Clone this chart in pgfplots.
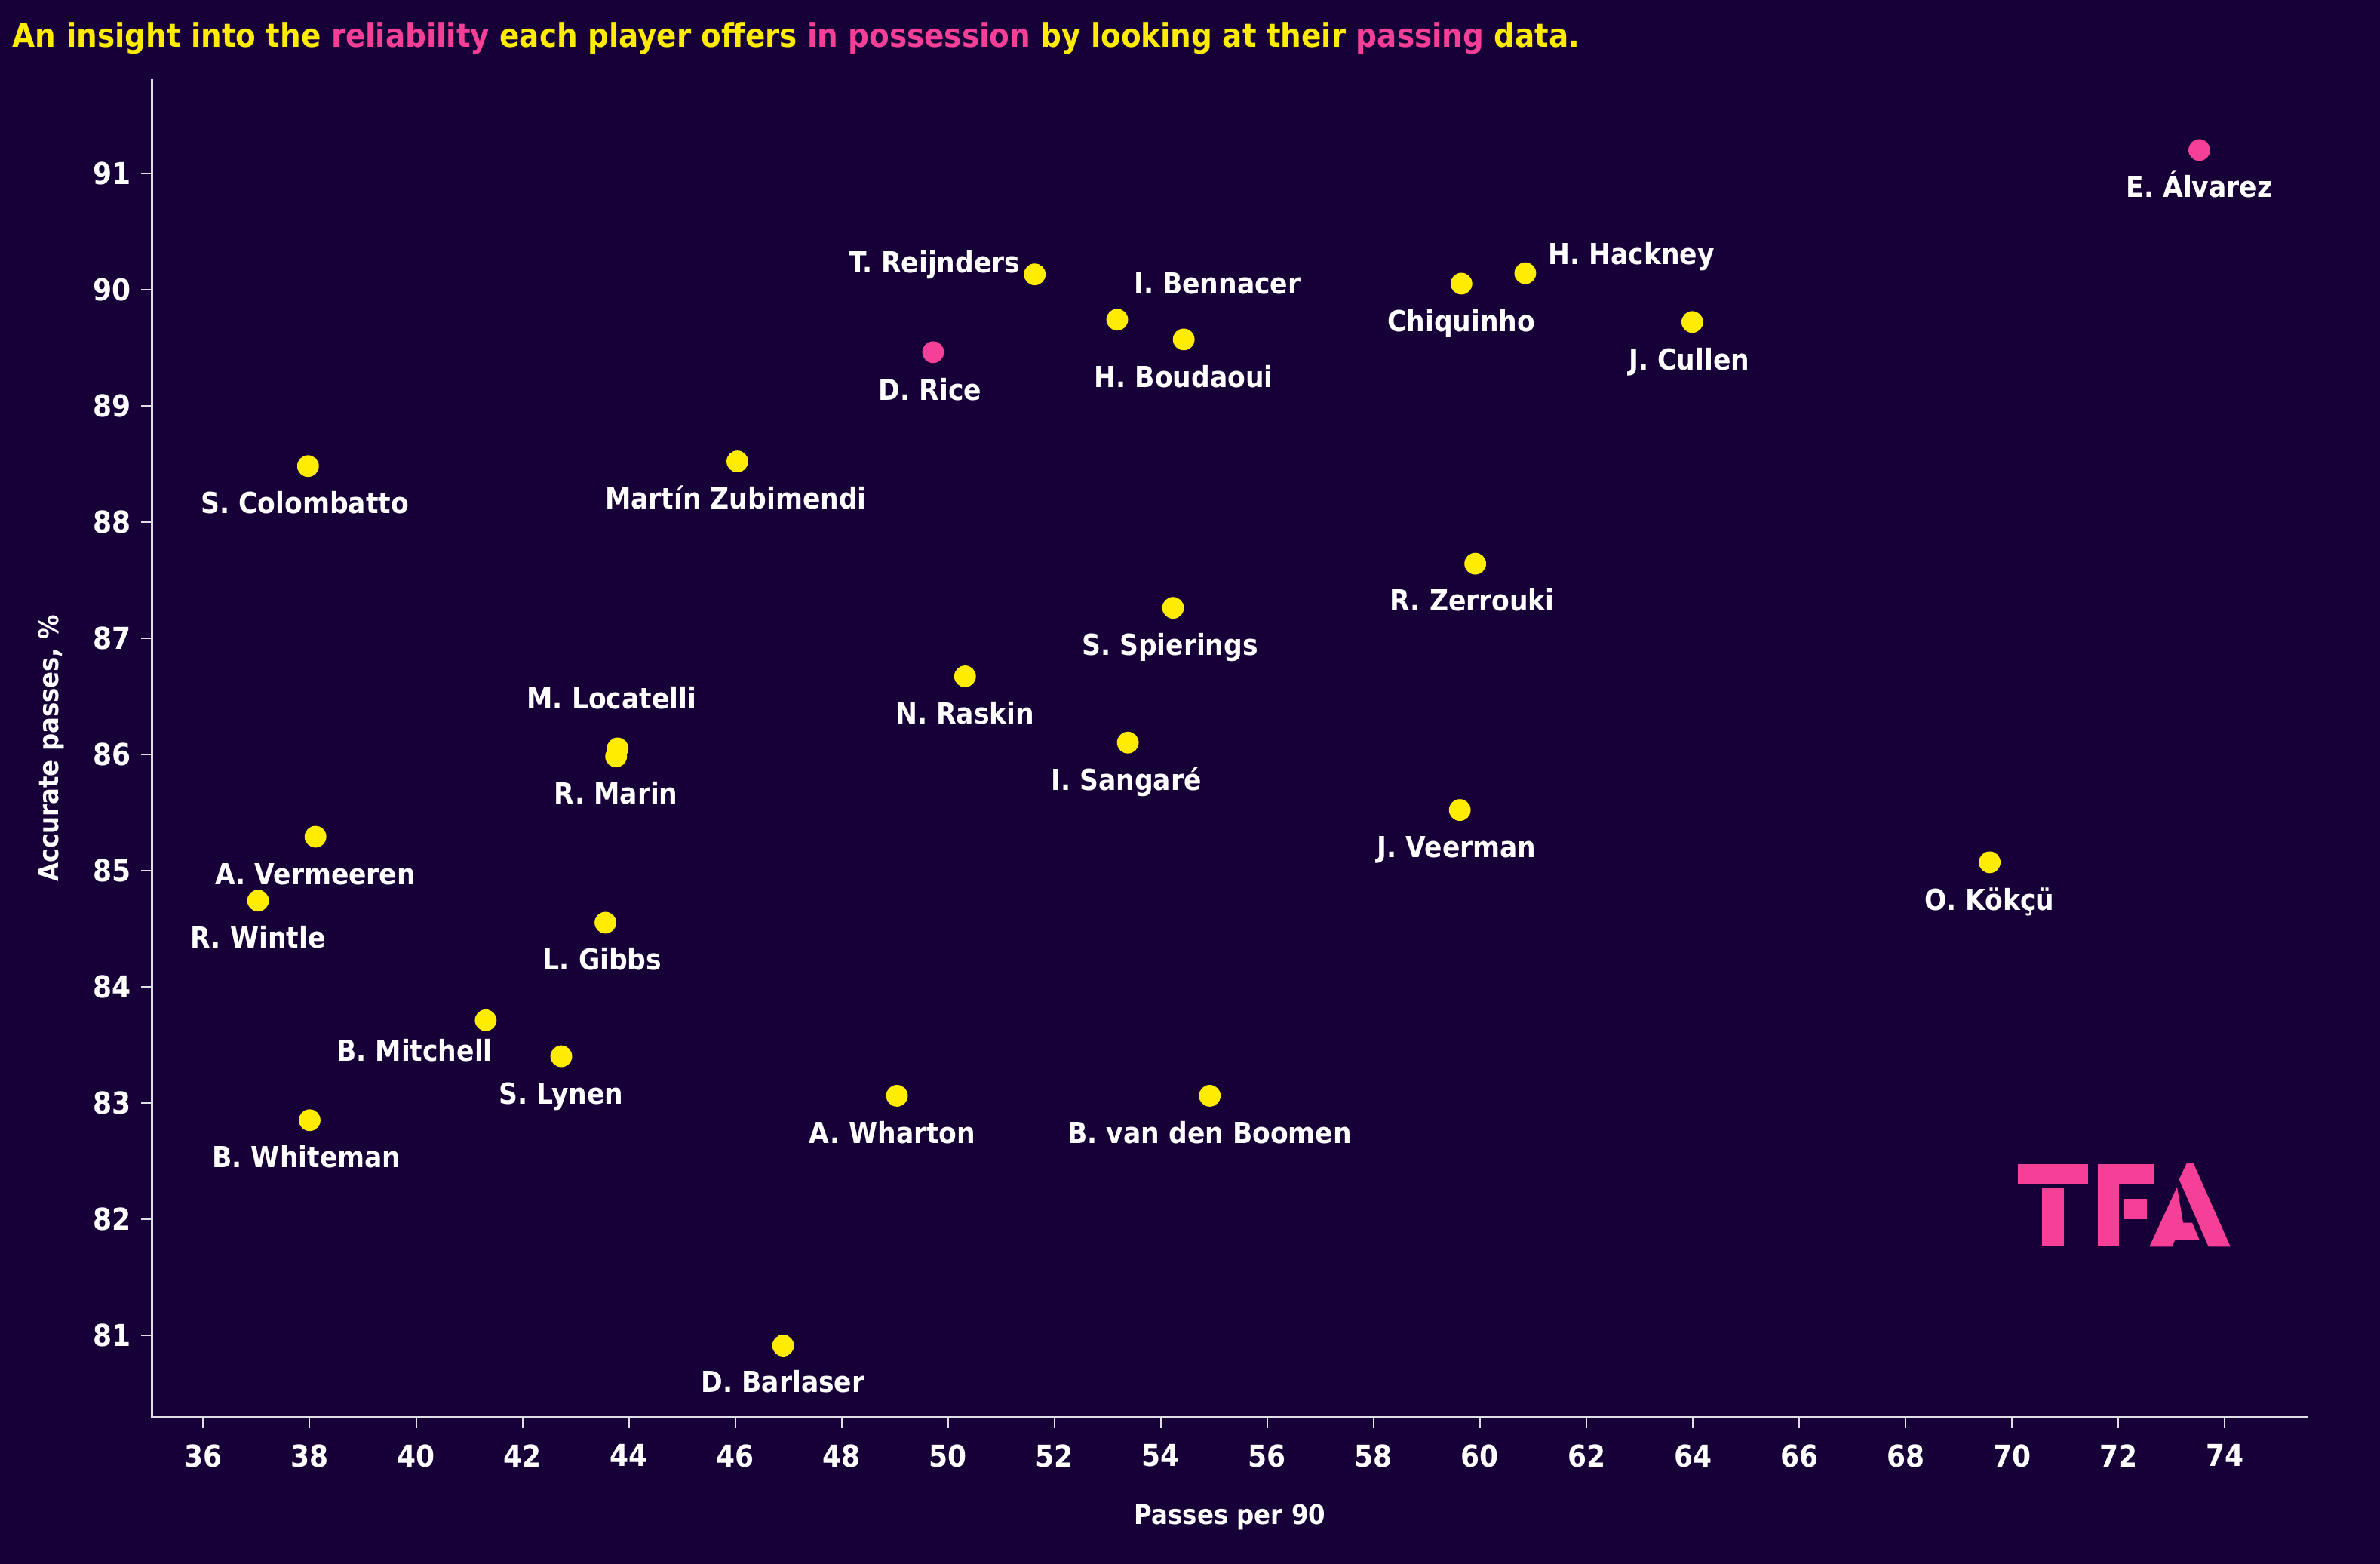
\documentclass[border=0pt]{standalone}
\usepackage{pgfplots}
\pgfplotsset{compat=1.18}
\usepackage{pgfplotstable}
\usepackage{fontspec}
\setmainfont{DejaVu Sans Condensed}

\definecolor{bg}{RGB}{23,0,56}
\definecolor{yel}{RGB}{255,236,0}
\definecolor{pnk}{RGB}{246,63,151}
\definecolor{axgray}{RGB}{222,222,228}

\begin{document}

\pgfplotstableread[col sep=comma]{
x,y,label,dx,dy
60.85,90.14,H. Hackney,35.2,3.0
59.65,90.05,Chiquinho,0,-15.8
63.99,89.72,J. Cullen,-1,-15.8
51.63,90.13,T. Reijnders,-33.2,0.5
53.18,89.74,I. Bennacer,33.2,8.6
54.43,89.57,H. Boudaoui,0,-15.8
37.97,88.48,S. Colombatto,-1,-15.8
46.04,88.52,Martín Zubimendi,-0.5,-15.8
59.91,87.64,R. Zerrouki,-1,-15.6
54.23,87.26,S. Spierings,-1,-15.8
50.32,86.67,N. Raskin,0,-15.8
43.79,86.05,M. Locatelli,-2,13.1
43.76,85.98,R. Marin,0,-15.6
53.38,86.10,I. Sangaré,-0.5,-15.8
59.62,85.52,J. Veerman,-1,-15.8
69.58,85.07,O. Kökçü,0,-15.8
38.11,85.29,A. Vermeeren,0,-15.8
37.03,84.74,R. Wintle,0,-15.6
43.56,84.55,L. Gibbs,-1,-15.6
41.31,83.71,B. Mitchell,-23.6,-13.6
42.73,83.40,S. Lynen,0,-15.8
38.00,82.85,B. Whiteman,-1,-15.6
49.04,83.06,A. Wharton,-1.5,-15.8
54.92,83.06,B. van den Boomen,0,-15.8
46.90,80.91,D. Barlaser,0,-15.6
}\yellowdata

\pgfplotstableread[col sep=comma]{
x,y,label,dx,dy
73.52,91.20,E. Álvarez,0,-15.6
49.72,89.46,D. Rice,-1,-15.8
}\pinkdata

\begin{tikzpicture}
\fill[bg] (0,0) rectangle (788.75pt,518.25pt);

% title
\node[anchor=base west, inner sep=0pt, text=yel, font=\bfseries\fontsize{10.8}{13}\selectfont]
  at (4pt,502.5pt) {An insight into the {\color{pnk}reliability} each player offers {\color{pnk}in possession} by looking at their {\color{pnk}passing} data.};

\begin{axis}[
  at={(50.25pt,48.5pt)}, anchor=south west,
  scale only axis, width=714.75pt, height=443.5pt,
  xmin=35.03, xmax=75.57, ymin=80.29, ymax=91.81,
  axis lines*=left,
  axis line style={draw=axgray, line width=0.75pt, -},
  xtick={36,38,...,74}, ytick={81,82,...,91},
  tick align=outside, major tick length=3.4pt,
  tick style={draw=axgray, line width=0.5pt},
  /pgf/number format/assume math mode=true,
  tick label style={text=white, font=\bfseries\fontsize{10}{12}\selectfont},
  xticklabel style={yshift=-2pt},
  clip=false,
  every node near coord/.append style={anchor=base, text=white,
    font=\bfseries\fontsize{9.6}{11}\selectfont, inner sep=0pt,
    xshift=\labdx pt, yshift=\labdy pt},
]
\addplot[only marks, mark=*, mark size=3.4pt, color=yel,
  nodes near coords, point meta=explicit symbolic,
  visualization depends on={\thisrow{dx} \as \labdx},
  visualization depends on={\thisrow{dy} \as \labdy}]
  table[x=x, y=y, meta=label] {\yellowdata};
\addplot[only marks, mark=*, mark size=3.4pt, color=pnk,
  nodes near coords, point meta=explicit symbolic,
  visualization depends on={\thisrow{dx} \as \labdx},
  visualization depends on={\thisrow{dy} \as \labdy}]
  table[x=x, y=y, meta=label] {\pinkdata};

\node[anchor=base, text=white, font=\bfseries\fontsize{9}{11}\selectfont]
  at ([yshift=-35.5pt]axis description cs:0.5,0) {Passes per 90};
\node[anchor=base, rotate=90, text=white, font=\bfseries\fontsize{9}{11}\selectfont]
  at ([xshift=-30.9pt]axis description cs:0,0.5) {Accurate passes, \%};
\end{axis}

% TFA logo
\begin{scope}[shift={(650pt,148.25pt)}, x=0.083333pt, y=-0.083333pt]
\fill[pnk] (225,190) rectangle (505,267);
\fill[pnk] (322,285) rectangle (407,517);
\fill[pnk] (543,190) rectangle (765,267);
\fill[pnk] (543,267) rectangle (627,517);
\fill[pnk] (648,328) rectangle (738,407);
\fill[pnk] (866,250) -- (897,184) -- (922,184) -- (1070,517) -- (983,517) -- cycle;
\fill[pnk] (858,280) -- (882,422) -- (918,422) -- (947,490) -- (850,490) -- (838,517) -- (748,517) -- cycle;
\end{scope}

\pgfresetboundingbox
\useasboundingbox (0,0) rectangle (788.75pt,518.25pt);
\end{tikzpicture}
\end{document}
